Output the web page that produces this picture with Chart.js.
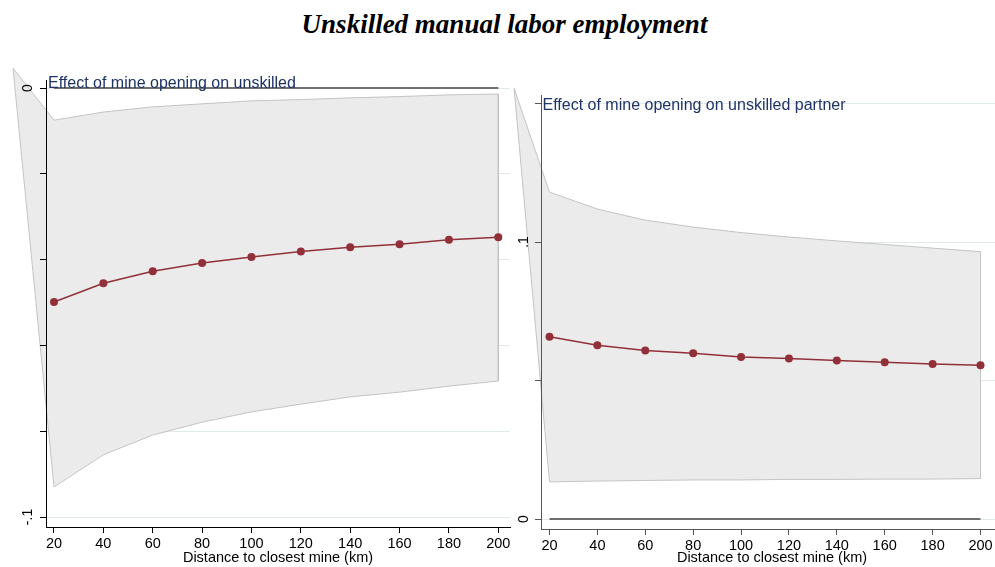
<!DOCTYPE html>
<html>
<head>
<meta charset="utf-8">
<script src="https://cdn.jsdelivr.net/npm/chart.js@4.4.1/dist/chart.umd.min.js"></script>
<style>
  html, body { margin: 0; padding: 0; background: #fff; }
  body { position: relative; width: 995px; height: 567px; overflow: hidden; }
  #title {
    position: absolute; top: 11px; left: 0; width: 1009px; text-align: center;
    font: italic bold 27px "Liberation Serif", "Times New Roman", serif;
    line-height: 27px; color: #000; white-space: nowrap;
  }
  canvas { position: absolute; top: 0; }
</style>
</head>
<body>
<div id="title">Unskilled manual labor employment</div>
<canvas id="ownPanel" width="520" height="567" style="left:0px"></canvas>
<canvas id="partnerPanel" width="520" height="567" style="left:500px"></canvas>
<script>
// Distance grid (km) shared by both panels
const distances = [20, 40, 60, 80, 100, 120, 140, 160, 180, 200];

// Effect of a mine opening on the respondent's own unskilled employment
const ownEffect = [-0.0499, -0.0455, -0.0427, -0.0408, -0.0394, -0.0381, -0.0371, -0.0364, -0.0354, -0.0348];
const ownUpper  = [-0.0075, -0.0056, -0.0044, -0.0037, -0.0030, -0.0027, -0.0023, -0.0020, -0.0016, -0.0014];
const ownLower  = [-0.0930, -0.0855, -0.0809, -0.0779, -0.0755, -0.0737, -0.0720, -0.0709, -0.0695, -0.0683];
const ownBandApex = { x: 3.4, y: 0.0046 };
const ownYTicks = [0, -0.02, -0.04, -0.06, -0.08, -0.1];
const ownYLabels = { '0': '0', '-0.1': '-.1' };

// Effect of a mine opening on the partner's unskilled employment
const partnerEffect = [0.0658, 0.0627, 0.0608, 0.0598, 0.0585, 0.0579, 0.0572, 0.0566, 0.0560, 0.0555];
const partnerUpper  = [0.1180, 0.1119, 0.1079, 0.1054, 0.1034, 0.1018, 0.1004, 0.0991, 0.0978, 0.0965];
const partnerLower  = [0.0134, 0.0137, 0.0139, 0.0141, 0.0141, 0.0143, 0.0143, 0.0144, 0.0144, 0.0146];
const partnerBandApex = { x: 5.2, y: 0.1555 };
const partnerYTicks = [0, 0.05, 0.1, 0.15];
const partnerYLabels = { '0': '0', '0.1': '.1' };

const xTicks = distances;
const xTitle = 'Distance to closest mine (km)';

const SANS = '"Liberation Sans", Arial, Helvetica, sans-serif';

// Fills the confidence band polygon (it may reach past the plot area)
const bandFillPlugin = {
  id: 'bandFill',
  beforeDatasetsDraw(chart) {
    const ctx = chart.ctx;
    chart.data.datasets.forEach((ds, i) => {
      if (!ds.bandFill) return;
      const pts = chart.getDatasetMeta(i).data;
      ctx.save();
      ctx.beginPath();
      pts.forEach((p, j) => (j ? ctx.lineTo(p.x, p.y) : ctx.moveTo(p.x, p.y)));
      ctx.closePath();
      ctx.fillStyle = ds.backgroundColor;
      ctx.fill();
      ctx.restore();
    });
  }
};

// Panel caption written in the top-left corner of the plot area
const panelLabelPlugin = {
  id: 'panelLabel',
  afterDraw(chart, args, opts) {
    const { ctx, chartArea } = chart;
    ctx.save();
    ctx.font = '16px ' + SANS;
    ctx.fillStyle = '#1f3366';
    ctx.textBaseline = 'alphabetic';
    ctx.textAlign = 'left';
    ctx.fillText(opts.text, chartArea.left + opts.dx, chartArea.top + opts.dy);
    ctx.restore();
  }
};

function makePanel(id, p) {
  const pts = arr => distances.map((x, i) => ({ x, y: arr[i] }));
  const band = [p.apex, ...pts(p.upper), ...pts(p.lower).reverse(), p.apex];
  const zero = distances.map(x => ({ x, y: 0 }));
  const setTicks = list => scale => { scale.ticks = list.map(v => ({ value: v })); };

  return new Chart(document.getElementById(id), {
    type: 'line',
    data: {
      datasets: [
        { data: band, bandFill: true, backgroundColor: '#ebebeb', borderColor: '#c4c4c4',
          borderWidth: 1, pointRadius: 0, fill: false, clip: false, tension: 0, order: 3 },
        { data: zero, borderColor: '#6f6f6f', borderWidth: 2, pointRadius: 0, fill: false, order: 2 },
        { data: pts(p.effect), borderColor: '#923039', borderWidth: 1.5, pointRadius: 4,
          pointBackgroundColor: '#923039', pointBorderWidth: 0, fill: false, order: 1 }
      ]
    },
    options: {
      responsive: false,
      animation: false,
      events: [],
      layout: { padding: p.padding },
      plugins: {
        legend: { display: false },
        tooltip: { enabled: false },
        panelLabel: p.label
      },
      scales: {
        x: {
          type: 'linear', min: p.xMin, max: p.xMax,
          afterBuildTicks: setTicks(xTicks),
          afterFit: s => { s.height = p.xHeight; },
          grid: { drawOnChartArea: false, tickLength: 6, tickColor: p.axisColor, z: 1 },
          border: { color: p.axisColor, width: 1, z: 1 },
          ticks: { color: '#000', font: { family: SANS, size: 14.5 }, padding: 2,
                   maxRotation: 0, autoSkip: false, z: 1 },
          title: { display: true, text: xTitle, color: '#000',
                   font: { family: SANS, size: 14.5 }, padding: { top: 0, bottom: 0 } }
        },
        y: {
          type: 'linear', position: 'left', min: p.yMin, max: p.yMax,
          afterBuildTicks: setTicks(p.yTicks),
          afterFit: s => { s.width = p.yWidth; },
          grid: { drawOnChartArea: false, tickLength: 6, tickColor: p.axisColor, z: 1 },
          border: { color: p.axisColor, width: 1, z: 1 },
          ticks: {
            color: '#000', font: { family: SANS, size: 14 },
            minRotation: 90, maxRotation: 90, crossAlign: 'center',
            padding: p.yLabelPad, autoSkip: false, z: 1,
            callback: v => p.yLabels[String(v)] ?? ''
          }
        },
        yg: {
          axis: 'y', type: 'linear', position: 'left', min: p.yMin, max: p.yMax,
          afterBuildTicks: setTicks(p.yTicks),
          afterFit: s => { s.width = 0; },
          grid: { color: '#e1eaeb', lineWidth: 1, drawTicks: false, z: 0 },
          border: { display: false },
          ticks: { display: false }
        }
      }
    },
    plugins: [bandFillPlugin, panelLabelPlugin]
  });
}

makePanel('ownPanel', {
  effect: ownEffect, upper: ownUpper, lower: ownLower, apex: ownBandApex,
  yTicks: ownYTicks, yLabels: ownYLabels,
  xMin: 16.759, xMax: 204.74, yMin: -0.102331, yMax: 0.001865,
  padding: { left: 6, top: 80, right: 10, bottom: 0 },
  yWidth: 40, xHeight: 40, yLabelPad: 4, axisColor: '#000',
  label: { text: 'Effect of mine opening on unskilled', dx: 2, dy: 8.3 }
});

makePanel('partnerPanel', {
  effect: partnerEffect, upper: partnerUpper, lower: partnerLower, apex: partnerBandApex,
  yTicks: partnerYTicks, yLabels: partnerYLabels,
  xMin: 16.45, xMax: 209.40, yMin: -0.00361, yMax: 0.15307,
  padding: { left: 5, top: 95, right: 17, bottom: 0 },
  yWidth: 36, xHeight: 38, yLabelPad: 5, axisColor: '#555',
  label: { text: 'Effect of mine opening on unskilled partner', dx: 1.5, dy: 14.5 }
});
</script>
</body>
</html>
